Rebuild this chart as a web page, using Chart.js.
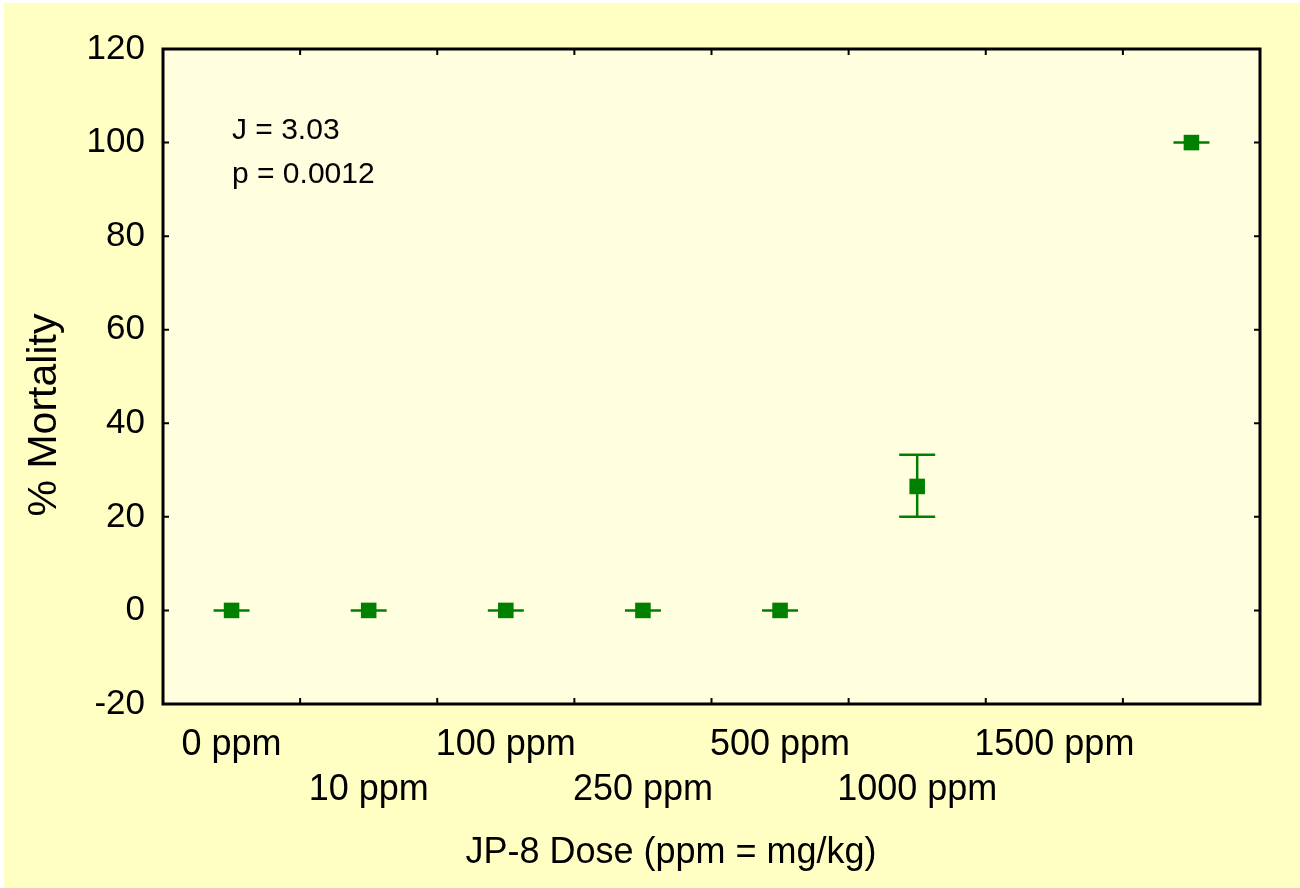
<!DOCTYPE html>
<html>
<head>
<meta charset="utf-8">
<script src="https://cdn.jsdelivr.net/npm/chart.js@4.4.1/dist/chart.umd.min.js"></script>
<style>
  html, body { margin: 0; padding: 0; background: #ffffff; }
  #wrap { position: absolute; left: 4px; top: 3px; width: 1296px; height: 885px; background: #ffffc4; }
</style>
</head>
<body>
<div id="wrap"><canvas id="chart" width="1296" height="885"></canvas></div>
<script>
// dose groups (the 1500 ppm point sits one slot past its label in the original)
const doseLabels = ['0 ppm', '10 ppm', '100 ppm', '250 ppm', '500 ppm', '1000 ppm', '1500 ppm', ''];
const mortality = [0, 0, 0, 0, 0, 26.5, null, 100];
const errLow = [0, 0, 0, 0, 0, 20, null, 100];
const errHigh = [0, 0, 0, 0, 0, 33.3, null, 100];
const yTicks = [-20, 0, 20, 40, 60, 80, 100, 120];
const statLines = ['J = 3.03', 'p = 0.0012'];
const xTitle = 'JP-8 Dose (ppm = mg/kg)';
const yTitle = '% Mortality';

const green = '#008000';
const fontFamily = '"Liberation Sans", Arial, sans-serif';

const framePlugin = {
  id: 'frame',
  beforeDraw(chart) {
    const { ctx, chartArea: a } = chart;
    ctx.save();
    ctx.fillStyle = '#ffffe0';
    ctx.fillRect(a.left, a.top, a.right - a.left, a.bottom - a.top);
    ctx.restore();
  },
  beforeDatasetsDraw(chart) {
    const { ctx, scales } = chart;
    const x = scales.x, y = scales.y;
    ctx.save();
    // error bars
    ctx.strokeStyle = green;
    ctx.lineWidth = 2.5;
    mortality.forEach((v, i) => {
      if (v === null) return;
      const px = x.getPixelForValue(i);
      const lo = y.getPixelForValue(errLow[i]);
      const hi = y.getPixelForValue(errHigh[i]);
      ctx.beginPath();
      ctx.moveTo(px, lo); ctx.lineTo(px, hi);
      ctx.moveTo(px - 18, lo); ctx.lineTo(px + 18, lo);
      ctx.moveTo(px - 18, hi); ctx.lineTo(px + 18, hi);
      ctx.stroke();
    });
    ctx.restore();
  },
  afterDraw(chart) {
    const { ctx, chartArea: a, scales } = chart;
    const x = scales.x, y = scales.y;
    ctx.save();
    ctx.strokeStyle = '#000';
    ctx.lineWidth = 2;
    ctx.beginPath();
    // inward ticks on all four sides
    yTicks.forEach(v => {
      const py = y.getPixelForValue(v);
      ctx.moveTo(a.left, py); ctx.lineTo(a.left + 6, py);
      ctx.moveTo(a.right, py); ctx.lineTo(a.right - 6, py);
    });
    for (let i = 0; i < doseLabels.length - 1; i++) {
      const px = (x.getPixelForValue(i) + x.getPixelForValue(i + 1)) / 2;
      ctx.moveTo(px, a.bottom); ctx.lineTo(px, a.bottom - 6);
      ctx.moveTo(px, a.top); ctx.lineTo(px, a.top + 6);
    }
    ctx.stroke();
    ctx.lineWidth = 3;
    ctx.strokeRect(a.left, a.top, a.right - a.left, a.bottom - a.top);
    // statistics text
    ctx.fillStyle = '#000';
    ctx.font = '30px ' + fontFamily;
    ctx.textBaseline = 'middle';
    ctx.fillText(statLines[0], a.left + 69, a.top + 82);
    ctx.fillText(statLines[1], a.left + 69, a.top + 126);
    // axis titles (placed off-centre like the original)
    ctx.textAlign = 'center';
    ctx.font = '36px ' + fontFamily;
    ctx.fillText(xTitle, 667, 850);
    ctx.translate(41, 412);
    ctx.rotate(-Math.PI / 2);
    ctx.font = '41px ' + fontFamily;
    ctx.fillText(yTitle, 0, 0);
    ctx.restore();
  }
};

new Chart(document.getElementById('chart'), {
  type: 'line',
  data: {
    labels: doseLabels,
    datasets: [{
      data: mortality,
      showLine: false,
      pointStyle: 'rect',
      pointRadius: 11,
      pointHoverRadius: 11,
      backgroundColor: green,
      borderColor: green,
      borderWidth: 0
    }]
  },
  options: {
    responsive: false,
    animation: false,
    layout: { padding: { top: 46, right: 40, bottom: 0, left: 0 } },
    plugins: { legend: { display: false }, tooltip: { enabled: false } },
    scales: {
      x: {
        type: 'category',
        offset: true,
        grid: { display: false },
        border: { display: false },
        afterFit(scale) { scale.height = 184; },
        ticks: {
          autoSkip: false,
          maxRotation: 0,
          minRotation: 0,
          padding: 11,
          color: '#000',
          font: { family: fontFamily, size: 36, lineHeight: 1.25 },
          callback(value, index) {
            const l = doseLabels[index];
            return index % 2 === 0 ? [l, ''] : ['', l];
          }
        }
      },
      y: {
        min: -20,
        max: 120,
        grid: { display: false },
        border: { display: false },
        afterFit(scale) { scale.width = 159; },
        ticks: {
          stepSize: 20,
          padding: 10,
          color: '#000',
          font: { family: fontFamily, size: 35 }
        }
      }
    }
  },
  plugins: [framePlugin]
});
</script>
</body>
</html>
